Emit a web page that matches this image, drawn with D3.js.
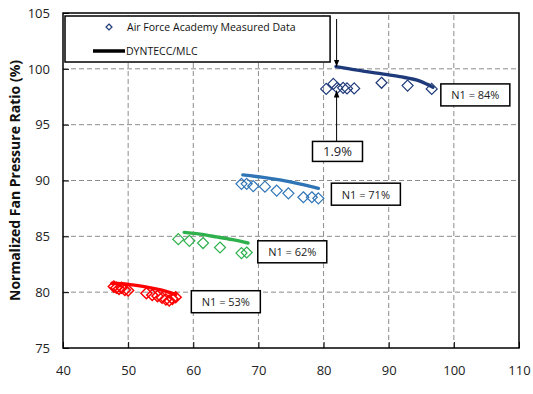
<!DOCTYPE html>
<html><head><meta charset="utf-8">
<script src="https://cdn.jsdelivr.net/npm/d3@7"></script>
<style>body{margin:0;background:#fff}svg{display:block}</style>
</head><body>
<svg id="c" width="533" height="394"></svg>
<script>
const xTicks = [40,50,60,70,80,90,100,110];
const yTicks = [75,80,85,90,95,100,105];

const n53X = [47.8,48.2,48.6,49.0,49.5,50.0,52.8,53.7,54.5,55.2,55.8,56.3,56.8,57.3];
const n53Y = [80.5,80.4,80.3,80.4,80.2,80.15,79.9,79.75,79.65,79.5,79.35,79.25,79.4,79.55];
const n53LX = [47.5,50,52.5,55,57.3];
const n53LY = [80.8,80.7,80.5,80.2,79.8];

const n62X = [57.7,59.4,61.5,64.1,67.4,68.2];
const n62Y = [84.75,84.6,84.4,84.0,83.5,83.55];
const n62LX = [58.6,61,63.6,66,68.4];
const n62LY = [85.35,85.2,84.95,84.7,84.4];

const n71X = [67.4,68.2,69.2,71.0,72.8,74.6,76.9,78.2,79.2];
const n71Y = [89.7,89.7,89.5,89.45,89.1,88.85,88.5,88.5,88.4];
const n71LX = [67.6,70.5,73.3,76.3,79.2];
const n71LY = [90.5,90.3,90.05,89.7,89.3];

const n84X = [80.4,81.5,82.1,83.0,83.6,84.7,88.9,92.9,96.6];
const n84Y = [98.2,98.65,98.3,98.3,98.25,98.25,98.75,98.5,98.2];
const n84LX = [81.9,84,86.6,89,91.7,94.8,96.8];
const n84LY = [100.2,100.0,99.75,99.55,99.3,98.9,98.35];

const seriesColors = ["#ff0000","#2eb04c","#2f75b6","#1f3a7a"];
const labelTexts = ["N1 = 53%","N1 = 62%","N1 = 71%","N1 = 84%"];
const labelX = [59.7,69.9,81.2,98.0];
const labelY = [80.13,84.6,89.76,98.65];

const W=533,H=394, m={l:63,r:14,t:13,b:46};
const svg=d3.select("#c");
const x=d3.scaleLinear().domain([40,110]).range([m.l,W-m.r]);
const y=d3.scaleLinear().domain([75,105]).range([H-m.b,m.t]);

// grid
const g=svg.append("g");
g.selectAll("line.vx").data(xTicks.slice(1,-1)).join("line")
 .attr("x1",d=>x(d)).attr("x2",d=>x(d)).attr("y1",y(75)).attr("y2",y(105))
 .attr("stroke","#8c8c8c").attr("stroke-dasharray","5,3").attr("stroke-width",1);
g.selectAll("line.hy").data(yTicks.slice(1,-1)).join("line")
 .attr("y1",d=>y(d)).attr("y2",d=>y(d)).attr("x1",x(40)).attr("x2",x(110))
 .attr("stroke","#8c8c8c").attr("stroke-dasharray","5,3").attr("stroke-width",1);

// axes
const fontTick="13px 'Open Sans', 'Liberation Sans', Arial, sans-serif";
const xa=svg.append("g").attr("transform",`translate(0,${y(75)})`)
 .call(d3.axisBottom(x).tickValues(xTicks).tickSizeInner(-6).tickSizeOuter(0).tickPadding(18));
const ya=svg.append("g").attr("transform",`translate(${x(40)},0)`)
 .call(d3.axisLeft(y).tickValues(yTicks).tickSizeInner(-6).tickSizeOuter(0).tickPadding(13));
[xa,ya].forEach(a=>{a.select(".domain").remove();
 a.selectAll("text").style("font",fontTick).attr("fill","#222");
 a.selectAll("line").attr("stroke","#000");});

svg.append("rect").attr("x",x(40)).attr("y",y(105)).attr("width",x(110)-x(40)).attr("height",y(75)-y(105))
 .attr("fill","none").attr("stroke","#000").attr("stroke-width",1.5);

svg.append("text").attr("transform",`translate(16,${(y(75)+y(105))/2}) rotate(-90)`)
 .attr("text-anchor","middle").attr("dominant-baseline","middle")
 .style("font","bold 14px 'Open Sans', 'Liberation Sans', Arial, sans-serif").attr("fill","#111")
 .text("Normalized Fan Pressure Ratio (%)");

// series
const diamond=(r)=>`M0,${-r}L${r},0L0,${r}L${-r},0Z`;
const sets=[[n53X,n53Y,n53LX,n53LY],[n62X,n62Y,n62LX,n62LY],[n71X,n71Y,n71LX,n71LY],[n84X,n84Y,n84LX,n84LY]];
const line=d3.line().x(d=>x(d[0])).y(d=>y(d[1])).curve(d3.curveMonotoneX);
sets.forEach((s,i)=>{
  const pts=s[0].map((v,k)=>[v,s[1][k]]);
  svg.append("g").selectAll("path").data(pts).join("path")
   .attr("d",diamond(5.5)).attr("transform",d=>`translate(${x(d[0])},${y(d[1])})`)
   .attr("fill","none").attr("stroke",seriesColors[i]).attr("stroke-width",i===0?1.5:1.2);
  const lp=s[2].map((v,k)=>[v,s[3][k]]);
  svg.append("path").attr("d",line(lp)).attr("fill","none").attr("stroke",seriesColors[i])
   .attr("stroke-width",3.4).attr("stroke-linecap","round");
});

// labels
const fontLab="11px 'Open Sans', 'Liberation Sans', Arial, sans-serif";
labelTexts.forEach((t,i)=>{
  const bx=x(labelX[i]), by=y(labelY[i]);
  svg.append("rect").attr("x",bx).attr("y",by).attr("width",69).attr("height",22)
   .attr("fill","#fff").attr("stroke","#000").attr("stroke-width",1.5);
  svg.append("text").attr("x",bx+34.5).attr("y",by+11).attr("text-anchor","middle")
   .attr("dominant-baseline","central").style("font",fontLab).attr("fill","#222").text(t);
});

// 1.9% annotation
const defs=svg.append("defs");
defs.append("marker").attr("id","ah").attr("viewBox","0 0 10 10").attr("refX",10).attr("refY",5)
 .attr("markerWidth",7).attr("markerHeight",7).attr("orient","auto-start-reverse")
 .append("path").attr("d","M0,1L10,5L0,9Z").attr("fill","#000");
const annX=82.0;
svg.append("rect").attr("x",x(78.3)).attr("y",y(93.5)).attr("width",50).attr("height",20)
 .attr("fill","#fff").attr("stroke","#000").attr("stroke-width",1.5);
svg.append("text").attr("x",x(78.3)+25).attr("y",y(93.5)+10).attr("text-anchor","middle")
 .attr("dominant-baseline","central").style("font","13px 'Open Sans', 'Liberation Sans', Arial, sans-serif").attr("fill","#222").text("1.9%");
svg.append("line").attr("x1",x(annX)).attr("x2",x(annX)).attr("y1",y(93.5)).attr("y2",y(98.05))
 .attr("stroke","#000").attr("stroke-width",1).attr("marker-end","url(#ah)");

// legend
const lg=svg.append("g");
lg.append("rect").attr("x",x(40)+2).attr("y",16).attr("width",x(81)-x(40)-2).attr("height",46)
 .attr("fill","#fff").attr("stroke","#000").attr("stroke-width",1.5);
lg.append("path").attr("d",diamond(3)).attr("transform","translate(109,27)").attr("fill","none")
 .attr("stroke","#1f3a7a").attr("stroke-width",1.2);
lg.append("text").attr("x",127).attr("y",27).attr("dominant-baseline","central")
 .style("font","10.5px 'Open Sans', 'Liberation Sans', Arial, sans-serif").attr("fill","#111").text("Air Force Academy Measured Data");
lg.append("line").attr("x1",93).attr("x2",125).attr("y1",51).attr("y2",51).attr("stroke","#000").attr("stroke-width",3.5);
lg.append("text").attr("x",126).attr("y",51).attr("dominant-baseline","central")
 .style("font","10.5px 'Open Sans', 'Liberation Sans', Arial, sans-serif").attr("fill","#111").text("DYNTECC/MLC");

// down arrow to line start
svg.append("line").attr("x1",x(annX)).attr("x2",x(annX)).attr("y1",19).attr("y2",y(100.2))
 .attr("stroke","#000").attr("stroke-width",1).attr("marker-end","url(#ah)");
</script>
</body></html>
